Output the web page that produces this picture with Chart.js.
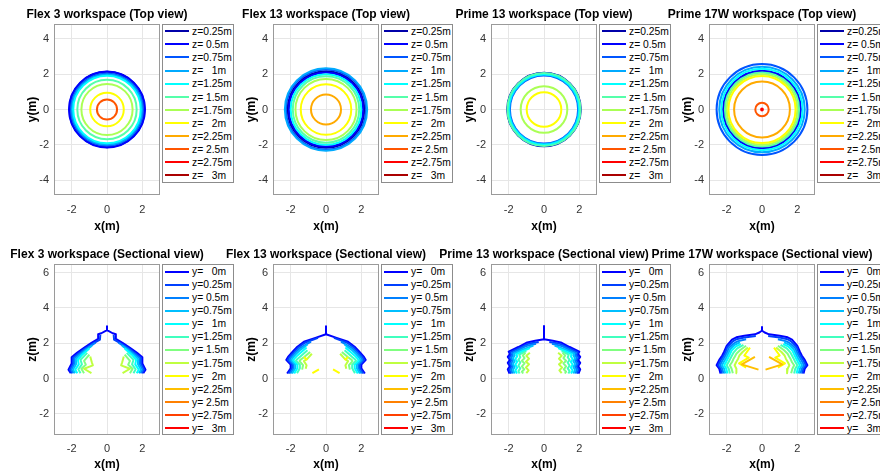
<!DOCTYPE html>
<html>
<head>
<meta charset="UTF-8">
<title>Workspace views</title>
<script src="https://cdn.jsdelivr.net/npm/chart.js"></script>
<style>
  body { margin: 0; width: 880px; height: 473px; overflow: hidden; background: #fff; position: relative;
         font-family: "Liberation Sans", Arial, sans-serif; }
  canvas { position: absolute; }
  .legend { position: absolute; background: #fff; border: 1px solid #8c8c8c; box-sizing: border-box;
            z-index: 2; font-size: 10.3px; color: #000; width: 72px; }
  .legend div { position: absolute; left: 2px; height: 12px; line-height: 12px; white-space: pre; }
  .legend span { display: inline-block; width: 24px; height: 2px; vertical-align: middle; margin-right: 3px; position: relative; top: -1px; }
</style>
</head>
<body>
<script>
// ---- data ----
const xTicks = [-2, 0, 2];
const topYTicks = [-4, -2, 0, 2, 4];
const secYTicks = [-2, 0, 2, 4, 6];
const xRange = [-3, 3];
const topYRange = [-4.84, 4.84];
const secYRange = [-3.2, 6.48];

const zLabels = ['z=0.25m', 'z= 0.5m', 'z=0.75m', 'z=   1m', 'z=1.25m', 'z= 1.5m',
                 'z=1.75m', 'z=   2m', 'z=2.25m', 'z= 2.5m', 'z=2.75m', 'z=   3m'];
const yLabels = ['y=   0m', 'y=0.25m', 'y= 0.5m', 'y=0.75m', 'y=   1m', 'y=1.25m', 'y= 1.5m',
                 'y=1.75m', 'y=   2m', 'y=2.25m', 'y= 2.5m', 'y=2.75m', 'y=   3m'];

const topTitles = ['Flex 3 workspace (Top view)', 'Flex 13 workspace (Top view)',
                   'Prime 13 workspace (Top view)', 'Prime 17W workspace (Top view)'];
const secTitles = ['Flex 3 workspace (Sectional view)', 'Flex 13 workspace (Sectional view)',
                   'Prime 13 workspace (Sectional view)', 'Prime 17W workspace (Sectional view)'];

// circle radius (m) per z level, null = no contour
const flex3TopR   = [2.13, 2.15, 2.04, 1.98, 1.91, 1.68, 1.45, 0.95, null, 0.57, null, null];
const flex13TopR  = [2.17, 2.1, 2.27, 2.33, 2.0, 1.88, 1.73, 1.43, 0.85, null, null, null];
const prime13TopR = [2.08, 2.06, 1.93, 1.96, 2.0, 2.07, 1.32, 0.98, null, null, null, null];
const prime17TopR = [2.17, 2.2, 2.57, 2.42, 2.3, 2.1, 2.0, 1.9, 1.58, 0.38, 0.05, null];

// sectional contours: left half [x, z], top to bottom (right half is the mirror), null = break
const flex3Sec = [
  [[0,2.74],[-0.32,2.56],[-0.5,2.5],[-0.5,2.24],[-0.9,2.0],[-1.3,1.74],[-1.7,1.45],[-2.0,1.2],[-2.0,0.85],[-2.18,0.5],[-2.05,0.3]],
  [[-0.38,2.46],[-0.4,2.2],[-0.85,1.95],[-1.25,1.69],[-1.64,1.4],[-1.92,1.17],[-1.92,0.84],[-2.1,0.5],[-1.97,0.3]],
  [[-0.65,2.02],[-1.2,1.66],[-1.58,1.37],[-1.84,1.14],[-1.84,0.83],[-2.01,0.5],[-1.89,0.3]],
  [[-0.85,1.85],[-1.2,1.6],[-1.52,1.33],[-1.76,1.1],[-1.75,0.82],[-1.92,0.5],[-1.81,0.3]],
  [[-1.0,1.7],[-1.45,1.3],[-1.65,1.06],[-1.6,0.8],[-1.8,0.5],[-1.68,0.3]],
  [[-1.12,1.45],[-1.5,1.06],[-1.42,0.8],[-1.62,0.52],[-1.5,0.3]],
  [[-1.0,1.35],[-1.3,1.0],[-1.2,0.78],[-1.45,0.55],[-1.3,0.3]],
  [[-0.95,1.25],[-0.86,0.92],[-0.8,0.74],[-1.3,0.55],[-0.88,0.3]],
  [], [], [], [], []
];
const flex13Sec = [
  [[0,2.5],[-0.6,2.3],[-1.25,2.08],[-1.62,1.8],[-1.9,1.5],[-2.15,1.22],[-2.25,1.05],[-2.0,0.78],[-2.0,0.58],[-2.2,0.28]],
  [[-0.45,2.3],[-1.2,2.02],[-1.57,1.75],[-1.84,1.46],[-2.07,1.2],[-2.16,1.05],[-1.92,0.78],[-1.92,0.58],[-2.12,0.28]],
  [[-0.85,2.08],[-1.5,1.7],[-1.77,1.42],[-1.99,1.18],[-2.06,1.04],[-1.83,0.78],[-1.83,0.58],[-2.02,0.28]],
  [[-1.05,1.92],[-1.45,1.62],[-1.7,1.38],[-1.9,1.15],[-1.96,1.03],[-1.74,0.78],[-1.74,0.58],[-1.92,0.28]],
  [[-1.1,1.76],[-1.6,1.32],[-1.8,1.12],[-1.85,1.02],[-1.62,0.78],[-1.62,0.58],[-1.8,0.28]],
  [[-1.05,1.6],[-1.45,1.25],[-1.65,1.08],[-1.7,1.0],[-1.48,0.78],[-1.48,0.58],[-1.64,0.3]],
  [[-0.9,1.5],[-1.25,1.2],[-1.45,1.05],[-1.5,0.98],[-1.3,0.75],[-1.35,0.5]],
  [[-0.8,1.4],[-1.05,1.12],[-1.25,0.98],[-1.1,0.75],[-1.15,0.55]],
  [[-1.25,1.22],[-1.05,1.04],null,[-0.77,0.3],[-0.4,0.52]],
  [], [], [], []
];
const prime13Sec = [
  [[0,2.22],[-0.5,2.13],[-0.95,2.04],[-1.45,1.78],[-2.0,1.52],[-1.93,1.38],[-2.05,1.22],[-1.93,1.05],[-2.05,0.88],[-1.93,0.7],[-2.05,0.52],[-1.95,0.28]],
  [[-0.3,2.06],[-0.9,1.96],[-1.42,1.72],[-1.91,1.48],[-1.85,1.35],[-1.96,1.2],[-1.85,1.03],[-1.96,0.86],[-1.85,0.69],[-1.96,0.5],[-1.86,0.28]],
  [[-0.45,1.97],[-1.0,1.84],[-1.4,1.64],[-1.82,1.44],[-1.76,1.32],[-1.87,1.17],[-1.76,1.0],[-1.87,0.84],[-1.76,0.67],[-1.87,0.5],[-1.77,0.28]],
  [[-0.6,1.86],[-1.2,1.64],[-1.71,1.41],[-1.66,1.3],[-1.76,1.15],[-1.66,0.98],[-1.76,0.82],[-1.66,0.65],[-1.76,0.48],[-1.66,0.28]],
  [[-0.8,1.72],[-1.3,1.5],[-1.57,1.38],[-1.52,1.25],[-1.62,1.1],[-1.52,0.95],[-1.62,0.78],[-1.52,0.62],[-1.62,0.45],[-1.53,0.28]],
  [[-1.0,1.55],[-1.4,1.35],[-1.34,1.2],[-1.45,1.05],[-1.34,0.9],[-1.45,0.72],[-1.34,0.57],[-1.45,0.42],[-1.38,0.28]],
  [[-1.05,1.45],[-1.2,1.3],[-1.1,1.15],[-1.25,1.0],[-1.1,0.85],[-1.25,0.68],[-1.12,0.52],[-1.25,0.38],[-1.18,0.28]],
  [[-0.8,1.45],[-1.0,1.28],[-0.85,1.12],[-1.02,0.95],[-0.85,0.8],[-1.02,0.62],[-0.87,0.46],[-1.0,0.3]],
  [], [], [], [], []
];
const prime17Sec = [
  [[0,2.72],[-0.15,2.6],[-0.4,2.5],[-1.0,2.42],[-1.45,2.33],[-1.7,2.2],[-2.0,1.85],[-2.15,1.5],[-2.25,1.3],[-2.42,1.05],[-2.57,0.75],[-2.42,0.55],[-2.35,0.28]],
  [[-0.35,2.4],[-1.0,2.32],[-1.45,2.22],[-1.65,2.1],[-1.95,1.8],[-2.08,1.47],[-2.18,1.28],[-2.34,1.03],[-2.48,0.75],[-2.34,0.55],[-2.28,0.28]],
  [[-0.9,2.22],[-1.4,2.1],[-1.6,1.98],[-1.88,1.72],[-2.0,1.44],[-2.1,1.25],[-2.25,1.0],[-2.38,0.75],[-2.25,0.55],[-2.18,0.28]],
  [[-1.25,2.05],[-1.55,1.9],[-1.8,1.65],[-1.92,1.4],[-2.0,1.22],[-2.14,0.98],[-2.27,0.75],[-2.14,0.55],[-2.08,0.28]],
  [[-1.2,1.95],[-1.5,1.8],[-1.72,1.58],[-1.82,1.36],[-1.9,1.2],[-2.02,0.96],[-2.14,0.75],[-2.02,0.55],[-1.96,0.28]],
  [[-1.05,1.9],[-1.4,1.7],[-1.6,1.48],[-1.7,1.3],[-1.78,1.15],[-1.88,0.95],[-2.0,0.75],[-1.88,0.55],[-1.82,0.28]],
  [[-0.9,1.85],[-1.25,1.6],[-1.45,1.4],[-1.55,1.22],[-1.62,1.1],[-1.7,0.92],[-1.82,0.75],[-1.72,0.55],[-1.65,0.3]],
  [[-0.8,1.75],[-1.1,1.5],[-1.28,1.3],[-1.35,1.12],[-1.45,0.95],[-1.55,0.75],[-1.45,0.55],[-1.42,0.3]],
  [[-0.68,1.75],[-1.0,1.3],[-0.75,1.18],[-1.3,0.85],[-0.9,0.62]],
  [[-0.4,1.22],[-1.15,0.8],[-0.2,0.5]],
  [], [], []
];
// top of the vertical stem on the y=0 contour
const stemTops = [2.95, 2.95, 2.97, 2.92];

// ---- styles ----
const zColors = ['#0000aa', '#0000ff', '#0055ff', '#00aaff', '#00ffff', '#55ffaa',
                 '#aaff55', '#ffff00', '#ffaa00', '#ff5500', '#ff0000', '#aa0000'];
const yColors = ['#0000ff', '#0040ff', '#0080ff', '#00bfff', '#00ffff', '#40ffbf', '#80ff80',
                 '#bfff40', '#ffff00', '#ffbf00', '#ff8000', '#ff4000', '#ff0000'];

const FONT = '"Liberation Sans", Arial, sans-serif';
Chart.defaults.font.family = FONT;

const PLOT_W = 106, M = 62;
const plotLefts = [54, 273, 491, 709];

// axes box drawn round the plot area
const boxPlugin = {
  id: 'box',
  afterDatasetsDraw(chart) {
    const { ctx, chartArea: a } = chart;
    ctx.save();
    ctx.strokeStyle = '#9a9a9a';
    ctx.lineWidth = 1;
    ctx.strokeRect(a.left + 0.5, a.top + 0.5, a.right - a.left - 1, a.bottom - a.top - 1);
    ctx.restore();
  }
};

// title centred over the plot area, not squeezed to the box width
const titlePlugin = {
  id: 'panelTitle',
  afterDraw(chart, args, opts) {
    const { ctx, chartArea: a } = chart;
    ctx.save();
    ctx.font = 'bold 12px ' + FONT;
    ctx.fillStyle = '#000';
    ctx.textAlign = 'center';
    ctx.textBaseline = 'middle';
    ctx.fillText(opts.text, (a.left + a.right) / 2, a.top - 9);
    ctx.restore();
  }
};

function topDatasets(radii) {
  return radii.map((r, i) => ({
    label: zLabels[i],
    data: r === null ? [] : [{ x: 0, y: 0 }],
    showLine: false,
    pointRadius: ctx => {
      if (r === null) return 0;
      const s = ctx.chart.scales.x;
      return Math.abs(s.getPixelForValue(r) - s.getPixelForValue(0));
    },
    pointBorderColor: zColors[i],
    pointBackgroundColor: 'rgba(0,0,0,0)',
    pointBorderWidth: 2,
    order: radii.length - i
  }));
}

function mirrorHalf(half, stemTop) {
  if (!half.length) return [];
  const left = half.slice().reverse().map(p => p ? { x: p[0], y: p[1] } : { x: 0, y: null });
  const right = half.map(p => p ? { x: -p[0], y: p[1] } : { x: 0, y: null });
  const mid = stemTop != null ? { x: 0, y: stemTop } : { x: 0, y: null };
  return [...left, mid, ...right];
}

function secDatasets(halves, stemTop) {
  return halves.map((h, i) => ({
    label: yLabels[i],
    data: mirrorHalf(h, i === 0 ? stemTop : null),
    showLine: true,
    spanGaps: false,
    pointRadius: 0,
    borderColor: yColors[i],
    borderWidth: 2,
    borderJoinStyle: 'round',
    order: halves.length - i
  }));
}

function addLegend(col, row, labels, colors) {
  const lg = document.createElement('div');
  lg.className = 'legend';
  const top = row === 0 ? 24 : 264;
  lg.style.left = (plotLefts[col] + PLOT_W + 2) + 'px';
  lg.style.top = top + 'px';
  lg.style.height = (row === 0 ? 159 : 171) + 'px';
  const first = row === 0 ? 7 : 7.3, step = row === 0 ? 13.1 : 13.03;
  labels.forEach((t, i) => {
    const d = document.createElement('div');
    d.style.top = (first + i * step - 6) + 'px';
    const sw = document.createElement('span');
    sw.style.background = colors[i];
    d.appendChild(sw);
    d.appendChild(document.createTextNode(t));
    lg.appendChild(d);
  });
  document.body.appendChild(lg);
}

function addChart(col, row, title, yTitle, yRange, yTicks, datasets) {
  const top = row === 0 ? 0 : 240;
  const height = row === 0 ? 240 : 233;
  const xH = height - 195;
  const cv = document.createElement('canvas');
  cv.width = PLOT_W + 2 * M;
  cv.height = height;
  cv.style.left = (plotLefts[col] - M) + 'px';
  cv.style.top = top + 'px';
  document.body.appendChild(cv);
  new Chart(cv, {
    type: 'scatter',
    data: { datasets: datasets },
    options: {
      responsive: false,
      animation: false,
      events: [],
      layout: { padding: { left: M - 54, right: M, top: 24, bottom: 0 }, autoPadding: false },
      plugins: {
        legend: { display: false },
        tooltip: { enabled: false },
        title: { display: false },
        panelTitle: { text: title }
      },
      scales: {
        x: {
          type: 'linear', min: xRange[0], max: xRange[1],
          afterBuildTicks: s => { s.ticks = xTicks.map(v => ({ value: v })); },
          afterFit: s => { s.height = xH; },
          grid: { color: '#e6e6e6', drawTicks: false },
          border: { display: false },
          ticks: { color: '#333', font: { size: 11 }, padding: row === 0 ? 8 : 7, maxRotation: 0 },
          title: { display: true, text: 'x(m)', color: '#000', font: { size: 12, weight: 'bold' },
                   padding: { top: 0, bottom: row === 0 ? 6 : 1 } }
        },
        y: {
          type: 'linear', min: yRange[0], max: yRange[1],
          afterBuildTicks: s => { s.ticks = yTicks.map(v => ({ value: v })); },
          afterFit: s => { s.width = 54; },
          grid: { color: '#e6e6e6', drawTicks: false },
          border: { display: false },
          ticks: { color: '#333', font: { size: 11 }, padding: 5 },
          title: { display: true, text: yTitle, color: '#000', font: { size: 12, weight: 'bold' },
                   padding: { top: 25, bottom: 0 } }
        }
      }
    },
    plugins: [boxPlugin, titlePlugin]
  });
}

const topRadii = [flex3TopR, flex13TopR, prime13TopR, prime17TopR];
const secHalves = [flex3Sec, flex13Sec, prime13Sec, prime17Sec];

for (let c = 0; c < 4; c++) {
  addChart(c, 0, topTitles[c], 'y(m)', topYRange, topYTicks, topDatasets(topRadii[c]));
  addChart(c, 1, secTitles[c], 'z(m)', secYRange, secYTicks, secDatasets(secHalves[c], stemTops[c]));
}
for (let c = 0; c < 4; c++) {
  addLegend(c, 0, zLabels, zColors);
  addLegend(c, 1, yLabels, yColors);
}
</script>
</body>
</html>
